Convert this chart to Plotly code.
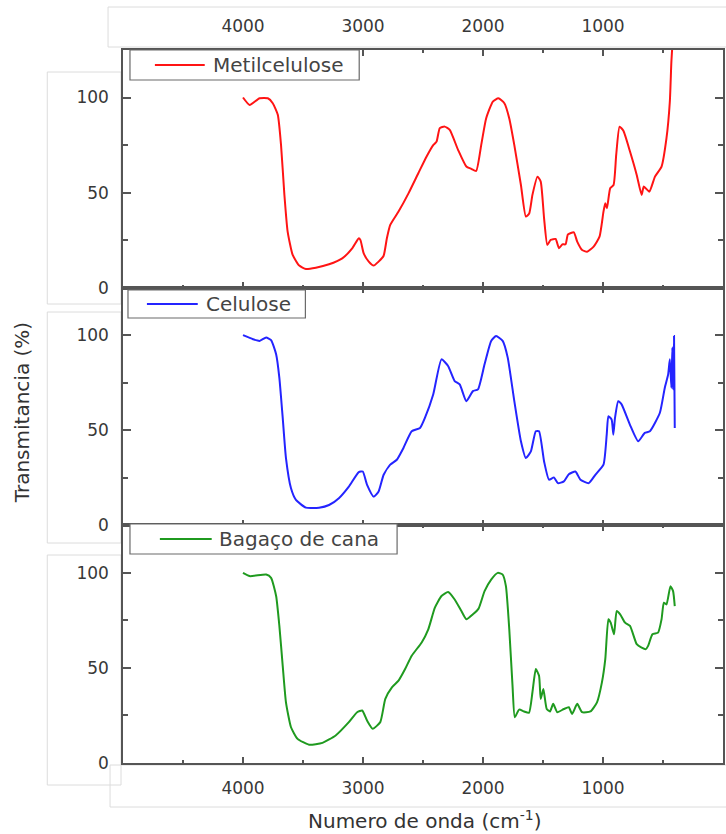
import plotly.graph_objects as go
from plotly.subplots import make_subplots

# ---------------- data ----------------
wn_metil = [4000, 3945, 3862, 3793, 3752, 3710, 3683, 3655, 3628, 3586, 3531, 3476, 3393, 3283,
            3173, 3090, 3035, 3021, 2994, 2952, 2911, 2870, 2828, 2801, 2773, 2704, 2621, 2539,
            2470, 2415, 2387, 2360, 2319, 2277, 2208, 2139, 2098, 2057, 2015, 1974, 1918, 1872,
            1822, 1781, 1739, 1684, 1643, 1615, 1588, 1546, 1519, 1491, 1464, 1436, 1395, 1367,
            1339, 1312, 1292, 1243, 1215, 1174, 1133, 1078, 1029, 996, 981, 967, 940, 912, 890,
            862, 830, 775, 719, 678, 660, 614, 567, 512, 471, 443, 430, 415]
t_metil = [100, 96.1, 99.6, 99.6, 97, 90.9, 75, 48.8, 29.5, 17.2, 11.6, 9.8, 10.5, 12.3,
           15.4, 20.7, 26, 25, 18, 13.7, 11.6, 13.7, 16.8, 26, 33, 40, 49.6, 60.2,
           69, 75, 76.8, 83.9, 84.7, 83, 72.5, 63.7, 62.5, 61.4, 75, 89, 97.9, 99.6,
           97, 89, 75, 54, 37.4, 39, 48.8, 58.4, 55.8, 36.5, 22.5, 25.1, 25.6, 20.7,
           22.8, 22.8, 28, 29.1, 24.2, 19.8, 18.9, 21.6, 26.8, 40, 44.4, 41.8, 52.3, 54, 69.8,
           84.7, 82.5, 71.6, 59.3, 48.8, 53.2, 50.5, 58.4, 63.7, 78.6, 97.9, 119, 135]

wn_cel = [4000, 3917, 3862, 3807, 3766, 3724, 3697, 3669, 3642, 3600, 3559, 3476, 3366, 3283,
          3201, 3118, 3035, 3002, 2966, 2911, 2870, 2828, 2773, 2718, 2663, 2594, 2525, 2484,
          2415, 2346, 2291, 2236, 2194, 2139, 2084, 2042, 1987, 1932, 1891, 1836, 1794, 1739,
          1684, 1643, 1601, 1560, 1533, 1491, 1450, 1409, 1376, 1326, 1285, 1230, 1188, 1119,
          1064, 996, 969, 955, 928, 914, 900, 873, 845, 776, 707, 652, 609, 526, 485, 457,
          443, 430, 422, 416, 408, 402]
t_cel = [100, 97.9, 97, 98.8, 97.4, 90, 77.6, 56.5, 35.4, 19.5, 13.4, 9.3, 9.3, 10.7,
         14.3, 20.4, 28, 28.3, 21.3, 15.1, 17.8, 26.6, 31.9, 34.5, 40.7, 49.5, 51.2, 56.5,
         68.8, 87.3, 83.8, 75.9, 74.1, 65.3, 70.6, 71.5, 84.7, 97, 99.6, 97, 88.2, 65.3,
         44.2, 35.4, 38.9, 49.5, 49.5, 33.6, 24, 25.2, 22.2, 23.1, 26.9, 28.3, 24, 22.2,
         26.6, 31.9, 47.7, 57.4, 55.6, 47.7, 56.5, 65.3, 63.6, 53, 44.2, 48.6, 49.5, 59.2, 72.4, 79.4,
         87.3, 72.4, 93.5, 71.5, 99.6, 51.2]

wn_bag = [4000, 3945, 3807, 3766, 3724, 3697, 3669, 3642, 3600, 3545, 3449, 3338, 3228, 3118,
          3049, 3007, 2966, 2919, 2856, 2814, 2759, 2704, 2649, 2594, 2511, 2456, 2401, 2346,
          2291, 2236, 2180, 2139, 2084, 2037, 1987, 1932, 1877, 1836, 1809, 1781, 1754, 1735,
          1699, 1658, 1617, 1588, 1560, 1533, 1519, 1497, 1469, 1442, 1415, 1381, 1326, 1285,
          1257, 1215, 1174, 1105, 1050, 1009, 981, 955, 936, 908, 886, 857, 816, 775, 719,
          678, 643, 624, 588, 541, 512, 493, 471, 438, 416, 402]
t_bag = [100, 98.3, 99.1, 97.4, 87.8, 72.1, 51.1, 31.9, 18.8, 12.7, 9.6, 10.6, 14.5, 21.5,
         26.7, 27.6, 22.3, 18, 21.5, 33.7, 39.8, 43.3, 49.4, 56.4, 63.4, 70.3, 81.7, 87.8,
         89.9, 86, 79.9, 75.6, 78.2, 81.2, 90.4, 96.5, 100, 99.1, 93, 70.3, 40.7, 24.1,
         28.1, 27.1, 26.4, 37.2, 49.4, 45.9, 33.7, 38.9, 28.4, 27.1, 31.1, 26.7, 28.4, 29.3,
         25.8, 31.1, 26.7, 27.1, 31.9, 42.4, 54.6, 75.6, 73.8, 67.7, 79.9, 78.2, 73.8, 72.1, 62.5,
         60.7, 59.9, 61.6, 67.7, 68.6, 75.6, 84.3, 83.4, 93, 90.4, 82.5]

series_names = ["Metilcelulose", "Celulose", "Bagaço de cana"]
series_colors = ["#ff1414", "#2424ff", "#1f9a1f"]
x_major = [4000, 3000, 2000, 1000]
x_minor = [4500, 3500, 2500, 1500, 500]
y_major = [0, 50, 100]
y_minor = [25, 75]
x_title = "Numero de onda (cm<sup>-1</sup>)"
y_title = "Transmitancia (%)"

# ---------------- figure ----------------
W, H = 726, 834
ML, MR, MT, MB = 123, 1, 50, 71
PW, PH = W - ML - MR, H - MT - MB

def px2x(px):
    return (px - ML) / PW

def py2y(py):
    return (H - MB - py) / PH

FONT = "DejaVu Sans"
AX = "#555555"
TXT = "#383838"

fig = make_subplots(rows=3, cols=1, vertical_spacing=0)

data = [(wn_metil, t_metil), (wn_cel, t_cel), (wn_bag, t_bag)]
for i, ((xs, ys), name, col) in enumerate(zip(data, series_names, series_colors)):
    fig.add_trace(go.Scatter(x=xs, y=ys, mode="lines", name=name,
                             line=dict(color=col, width=2, shape="spline", smoothing=0.5),
                             showlegend=False),
                  row=i + 1, col=1)

for r in range(1, 4):
    fig.update_xaxes(range=[5000, 0], tickmode="array", tickvals=x_major,
                     ticks="inside", ticklen=6, tickwidth=1.5, tickcolor=AX,
                     showline=True, linecolor=AX, linewidth=1.5, mirror="ticks",
                     showgrid=False, zeroline=False,
                     minor=dict(tickmode="array", tickvals=x_minor, ticks="inside",
                                ticklen=3, tickwidth=1.5, tickcolor=AX, showgrid=False),
                     tickfont=dict(family=FONT, size=17, color=TXT),
                     ticklabelstandoff=9,
                     showticklabels=(r != 2),
                     side=("top" if r == 1 else "bottom"),
                     row=r, col=1)
    fig.update_yaxes(range=[0, 125], tickmode="array", tickvals=y_major,
                     ticks="inside", ticklen=8, tickwidth=1.5, tickcolor=AX,
                     showline=True, linecolor=AX, linewidth=1.5, mirror="ticks",
                     showgrid=False, zeroline=False,
                     minor=dict(tickmode="array", tickvals=y_minor, ticks="inside",
                                ticklen=5, tickwidth=1.5, tickcolor=AX, showgrid=False),
                     tickfont=dict(family=FONT, size=17, color=TXT),
                     ticklabelstandoff=9,
                     row=r, col=1)

shapes = []
annotations = []

# faint grey boxes around tick-label regions (as in the composite reference)
boxes = [(108, 7, 740, 47), (47, 72, 121, 304), (47, 312, 121, 543),
         (47, 555, 121, 785), (110, 765, 740, 807)]
for (x0, y0, x1, y1) in boxes:
    shapes.append(dict(type="rect", xref="paper", yref="paper",
                       x0=px2x(x0), x1=px2x(x1), y0=py2y(y0), y1=py2y(y1),
                       line=dict(color="#dcdcdc", width=1), fillcolor="rgba(0,0,0,0)",
                       layer="below"))

# boxed legend per panel: (box x0, y0, x1, y1, line x0, x1, text x)
legend_boxes = [(130, 50, 360, 80, 155, 205, 211),
                (128, 290, 306, 318, 147, 198, 204),
                (130, 524, 398, 554, 160, 212, 217)]
for (bx0, by0, bx1, by1, lx0, lx1, tx), name, col in zip(legend_boxes, series_names, series_colors):
    yc = (by0 + by1) / 2
    shapes.append(dict(type="rect", xref="paper", yref="paper",
                       x0=px2x(bx0), x1=px2x(bx1), y0=py2y(by0), y1=py2y(by1),
                       line=dict(color="#6a6a6a", width=1.2), fillcolor="white", layer="above"))
    shapes.append(dict(type="line", xref="paper", yref="paper",
                       x0=px2x(lx0), x1=px2x(lx1), y0=py2y(yc), y1=py2y(yc),
                       line=dict(color=col, width=2), layer="above"))
    annotations.append(dict(text=name, xref="paper", yref="paper", x=px2x(tx), y=py2y(yc),
                            xanchor="left", yanchor="middle", showarrow=False,
                            font=dict(family=FONT, size=20, color="#444444")))

annotations += [
    dict(text=x_title, xref="paper", yref="paper", x=px2x(426), y=py2y(820),
         xanchor="center", yanchor="middle", showarrow=False,
         font=dict(family=FONT, size=20, color="#333333")),
    dict(text=y_title, xref="paper", yref="paper", x=px2x(22), y=py2y(413),
         xanchor="center", yanchor="middle", showarrow=False, textangle=-90,
         font=dict(family=FONT, size=20, color="#333333")),
]

fig.update_layout(width=W, height=H, margin=dict(l=ML, r=MR, t=MT, b=MB),
                  paper_bgcolor="white", plot_bgcolor="white",
                  shapes=shapes, annotations=annotations, showlegend=False)

fig.write_html("out.html", config={"displayModeBar": False},
               post_script="document.body.style.margin='0px';")
